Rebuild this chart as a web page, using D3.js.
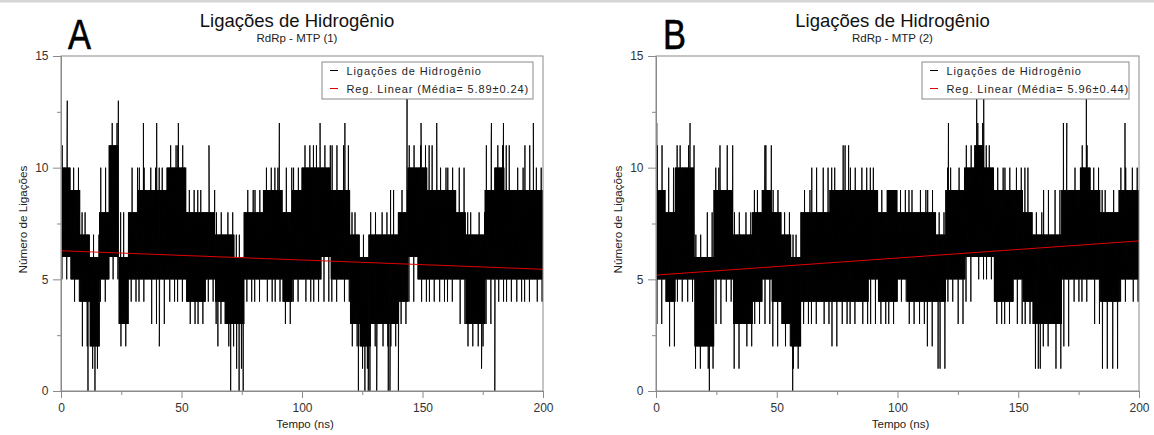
<!DOCTYPE html>
<html><head><meta charset="utf-8">
<script src="https://cdn.jsdelivr.net/npm/d3@7"></script>
<style>body{margin:0;background:#fff} svg{display:block}</style>
</head><body><svg id="c" width="1154" height="435"></svg>
<script>
// ---------- data ----------
// time bins of 4 ns: core band (solid black) and outer band (frequent thin lines)
const binStartsNs = d3.range(0, 200, 4);

const coreLoA = [6,5,4,2,5,6,3,5,5,5, 5,5,5,4,4,5,4,3,3,5, 5,5,5,4,5,5,5,6,5,5, 3,2,3,3,3,4,6,5,5,5, 5,5,3,3,5,5,5,5,5,5];
const coreHiA = [10,9,7,6,8,11,6,8,9,9, 9,10,10,8,8,8,7,7,6,8, 8,9,9,8,9,10,10,10,9,9, 7,6,7,7,7,8,10,10,9,9, 9,8,7,7,9,10,9,9,9,9];
const outLoA  = [5,4,2,1,4,5,2,4,4,3, 3,4,4,3,3,4,3,2,1,4, 4,4,4,3,4,4,4,4,4,4, 2,1,2,2,2,3,4,4,4,4, 4,3,2,2,3,4,4,4,4,4];
const outHiA  = [11,10,8,7,10,12,8,10,10,10, 10,11,11,9,9,9,8,8,7,9, 9,10,10,10,10,11,11,11,11,11, 8,7,8,8,9,9,11,11,11,10, 10,10,8,8,11,11,11,10,11,10];
const spikeTimesA  = [0.1,2.6,11.2,14.1,23.8,34.2,39.7,40.8,48.7,61.4,65.1,70.4,73.9,75.6,90.6,107.5,117.8,123.4,126.1,127.5,128.2,131,135.8,136.5,140,143.6,149.4,155.9,174.5,178.6,180,183.6,196];
const spikeValuesA = [12,13,0,0,13,12,12,2,12,11,2,0,0,0,12,12,12,0,0,0,0,0,0,0,0,14,12,12,1,12,0,12,12];

const coreLoB = [5,4,5,5,2,2,5,5,3,3, 4,5,4,3,2,4,4,4,4,4, 4,4,5,4,4,5,4,4,4,4, 5,5,6,6,6,4,4,5,4,3, 3,3,5,5,5,5,4,4,5,5];
const coreHiB = [9,8,10,10,6,6,9,9,7,7, 8,9,8,7,6,8,8,8,9,9, 9,9,9,8,9,8,8,8,8,7, 9,9,10,11,10,9,9,9,8,7, 7,7,9,9,10,9,8,8,9,9];
const outLoB  = [3,2,4,4,1,1,3,4,1,2, 3,3,2,2,1,3,3,3,2,3, 3,3,3,3,3,4,3,3,2,1, 4,3,4,5,5,3,3,3,3,1, 2,1,2,4,4,3,1,1,4,4];
const outHiB  = [11,10,11,11,7,8,10,11,8,8, 9,11,9,8,7,9,10,10,10,11, 10,10,10,9,9,9,9,9,9,8, 10,10,11,12,11,10,10,10,10,8, 9,9,10,10,11,10,9,9,10,10];
const spikeTimesB  = [0.3,14.1,22.1,26.5,45.1,56.6,78.3,116.8,121.1,132.8,135.7,158.3,168.7,170.1,178.2,194.2];
const spikeValuesB = [12,12,0,11,11,0,11,1,12,14,14,1,12,12,14,12];

// linear regression end points
const regTimes = [0, 200];
const regValuesA = [6.28, 5.45];
const regValuesB = [5.19, 6.72];

const yMajorTicks = [0, 5, 10, 15];
const yMinorTicks = [2.5, 7.5, 12.5];
const xMajorTicks = [0, 50, 100, 150, 200];
const xMinorTicks = [25, 75, 125, 175];

const titleText = "Ligações de Hidrogênio";
const subtitles = ["RdRp - MTP (1)", "RdRp - MTP (2)"];
const panelLetters = ["A", "B"];
const legendSeries = "Ligações de Hidrogênio";
const legendRegs = ["Reg. Linear (Média= 5.89±0.24)", "Reg. Linear (Média= 5.96±0.44)"];
const xLabel = "Tempo (ns)";
const yLabel = "Número de Ligações";

// ---------- drawing ----------
const svg = d3.select("#c");
const FONT = "'Liberation Sans', Arial, Helvetica, sans-serif";
svg.append("rect").attr("x",0).attr("y",0).attr("width",1154).attr("height",2.5).attr("fill","#d6d6d6");

// fixed slot layouts (which sub-steps of a bin carry the thin outer lines), cycled per bin
const hiSlots = [[4,20],[10,26],[6,16],[12,30]];
const loSlots = [[9,25],[3,19],[13,29],[7,23]];
const SUB = 32;

function buildSeries(lo, hi, olo, ohi, st, sv) {
  const pts = [];
  binStartsNs.forEach((t0, i) => {
    const hs = hiSlots[i % 4], ls = loSlots[(i + 1) % 4];
    for (let k = 0; k < SUB; k++) {
      const t = t0 + k * 4 / SUB;
      let v;
      if (hs.includes(k)) v = ohi[i];
      else if (ls.includes(k)) v = olo[i];
      else v = (k % 2 === 0) ? hi[i] : lo[i];
      pts.push([t, v]);
    }
  });
  pts.push([200, lo[lo.length - 1]]);
  st.forEach((t, j) => pts.push([t, sv[j]]));
  pts.sort((a, b) => a[0] - b[0]);
  return pts;
}

const panels = [
  {left: 61, right: 543, legendLeft: 322,
   series: buildSeries(coreLoA, coreHiA, outLoA, outHiA, spikeTimesA, spikeValuesA), reg: regValuesA},
  {left: 656, right: 1139, legendLeft: 922,
   series: buildSeries(coreLoB, coreHiB, outLoB, outHiB, spikeTimesB, spikeValuesB), reg: regValuesB}
];
const plotTop = 56, plotBottom = 391;

panels.forEach((p, pi) => {
  const g = svg.append("g");
  const x = d3.scaleLinear().domain([0, 200]).range([p.left, p.right]);
  const y = d3.scaleLinear().domain([0, 15]).range([plotBottom, plotTop]);
  const cx = (p.left + p.right) / 2;

  const clipId = "clip" + pi;
  svg.append("clipPath").attr("id", clipId).append("rect")
    .attr("x", p.left).attr("y", plotTop).attr("width", p.right - p.left).attr("height", plotBottom - plotTop);

  // data line
  g.append("path").datum(p.series)
    .attr("clip-path", `url(#${clipId})`)
    .attr("fill", "none").attr("stroke", "#000").attr("stroke-width", 0.9)
    .attr("d", d3.line().x(d => x(d[0])).y(d => y(d[1])));

  // regression
  g.append("path").datum(regTimes.map((t, i) => [t, p.reg[i]]))
    .attr("fill", "none").attr("stroke", "#e00000").attr("stroke-width", 1)
    .attr("d", d3.line().x(d => x(d[0])).y(d => y(d[1])));

  // frame
  g.append("rect").attr("x", p.left).attr("y", plotTop).attr("width", p.right - p.left).attr("height", plotBottom - plotTop)
    .attr("fill", "none").attr("stroke", "#8a8a8a").attr("stroke-width", 1);

  // axes
  const styleAxis = sel => {
    sel.selectAll("path.domain").attr("stroke", "#8a8a8a");
    sel.selectAll(".tick line").attr("stroke", "#8a8a8a");
    sel.selectAll(".tick text").attr("fill", "#333").style("font-family", FONT).style("font-size", "12px");
  };
  const ya = g.append("g").attr("transform", `translate(${p.left},0)`)
    .call(d3.axisLeft(y).tickValues(yMajorTicks).tickSize(8).tickPadding(4.5).tickFormat(d3.format("d")));
  styleAxis(ya);
  const yaM = g.append("g").attr("transform", `translate(${p.left},0)`)
    .call(d3.axisLeft(y).tickValues(yMinorTicks).tickSize(4).tickFormat(""));
  styleAxis(yaM); yaM.select("path.domain").remove();

  const xa = g.append("g").attr("transform", `translate(0,${plotBottom})`)
    .call(d3.axisBottom(x).tickValues(xMajorTicks).tickSize(7).tickPadding(5).tickFormat(d3.format("d")));
  styleAxis(xa);
  const xaM = g.append("g").attr("transform", `translate(0,${plotBottom})`)
    .call(d3.axisBottom(x).tickValues(xMinorTicks).tickSize(4).tickFormat(""));
  styleAxis(xaM); xaM.select("path.domain").remove();

  // axis labels
  g.append("text").attr("x", cx + 3).attr("y", 428).attr("text-anchor", "middle")
    .style("font-family", FONT).style("font-size", "11.5px").attr("fill", "#222").text(xLabel);
  g.append("text").attr("transform", `translate(${p.left - 34},${(plotTop + plotBottom) / 2 - 4}) rotate(-90)`)
    .attr("text-anchor", "middle")
    .style("font-family", FONT).style("font-size", "11.7px").attr("fill", "#222").text(yLabel);

  // titles
  g.append("text").attr("x", cx - 5).attr("y", 27).attr("text-anchor", "middle")
    .style("font-family", FONT).style("font-size", "18.5px").attr("fill", "#111").text(titleText);
  g.append("text").attr("x", cx - 5).attr("y", 41.5).attr("text-anchor", "middle")
    .style("font-family", FONT).style("font-size", "11.5px").attr("fill", "#222").text(subtitles[pi]);

  // panel letter
  g.append("text").attr("transform", `translate(${p.left + 7},49) scale(0.82,1)`)
    .style("font-family", FONT).style("font-size", "42px").attr("fill", "#000")
    .attr("stroke", "#000").attr("stroke-width", 0.6).text(panelLetters[pi]);

  // legend
  const lx = p.legendLeft, lr = p.right - 10, ly = 62;
  g.append("rect").attr("x", lx).attr("y", ly).attr("width", lr - lx).attr("height", 37)
    .attr("fill", "#fff").attr("stroke", "#8a8a8a").attr("stroke-width", 1);
  const rows = [{c: "#000", t: legendSeries, yb: 74.5}, {c: "#e00000", t: legendRegs[pi], yb: 92.5}];
  rows.forEach(r => {
    g.append("line").attr("x1", lx + 8).attr("x2", lx + 16).attr("y1", r.yb - 4).attr("y2", r.yb - 4)
      .attr("stroke", r.c).attr("stroke-width", 1);
    g.append("text").attr("x", lx + 24.5).attr("y", r.yb)
      .style("font-family", FONT).style("font-size", "11px").style("letter-spacing", "0.9px")
      .attr("fill", "#222").text(r.t);
  });
});
</script></body></html>
